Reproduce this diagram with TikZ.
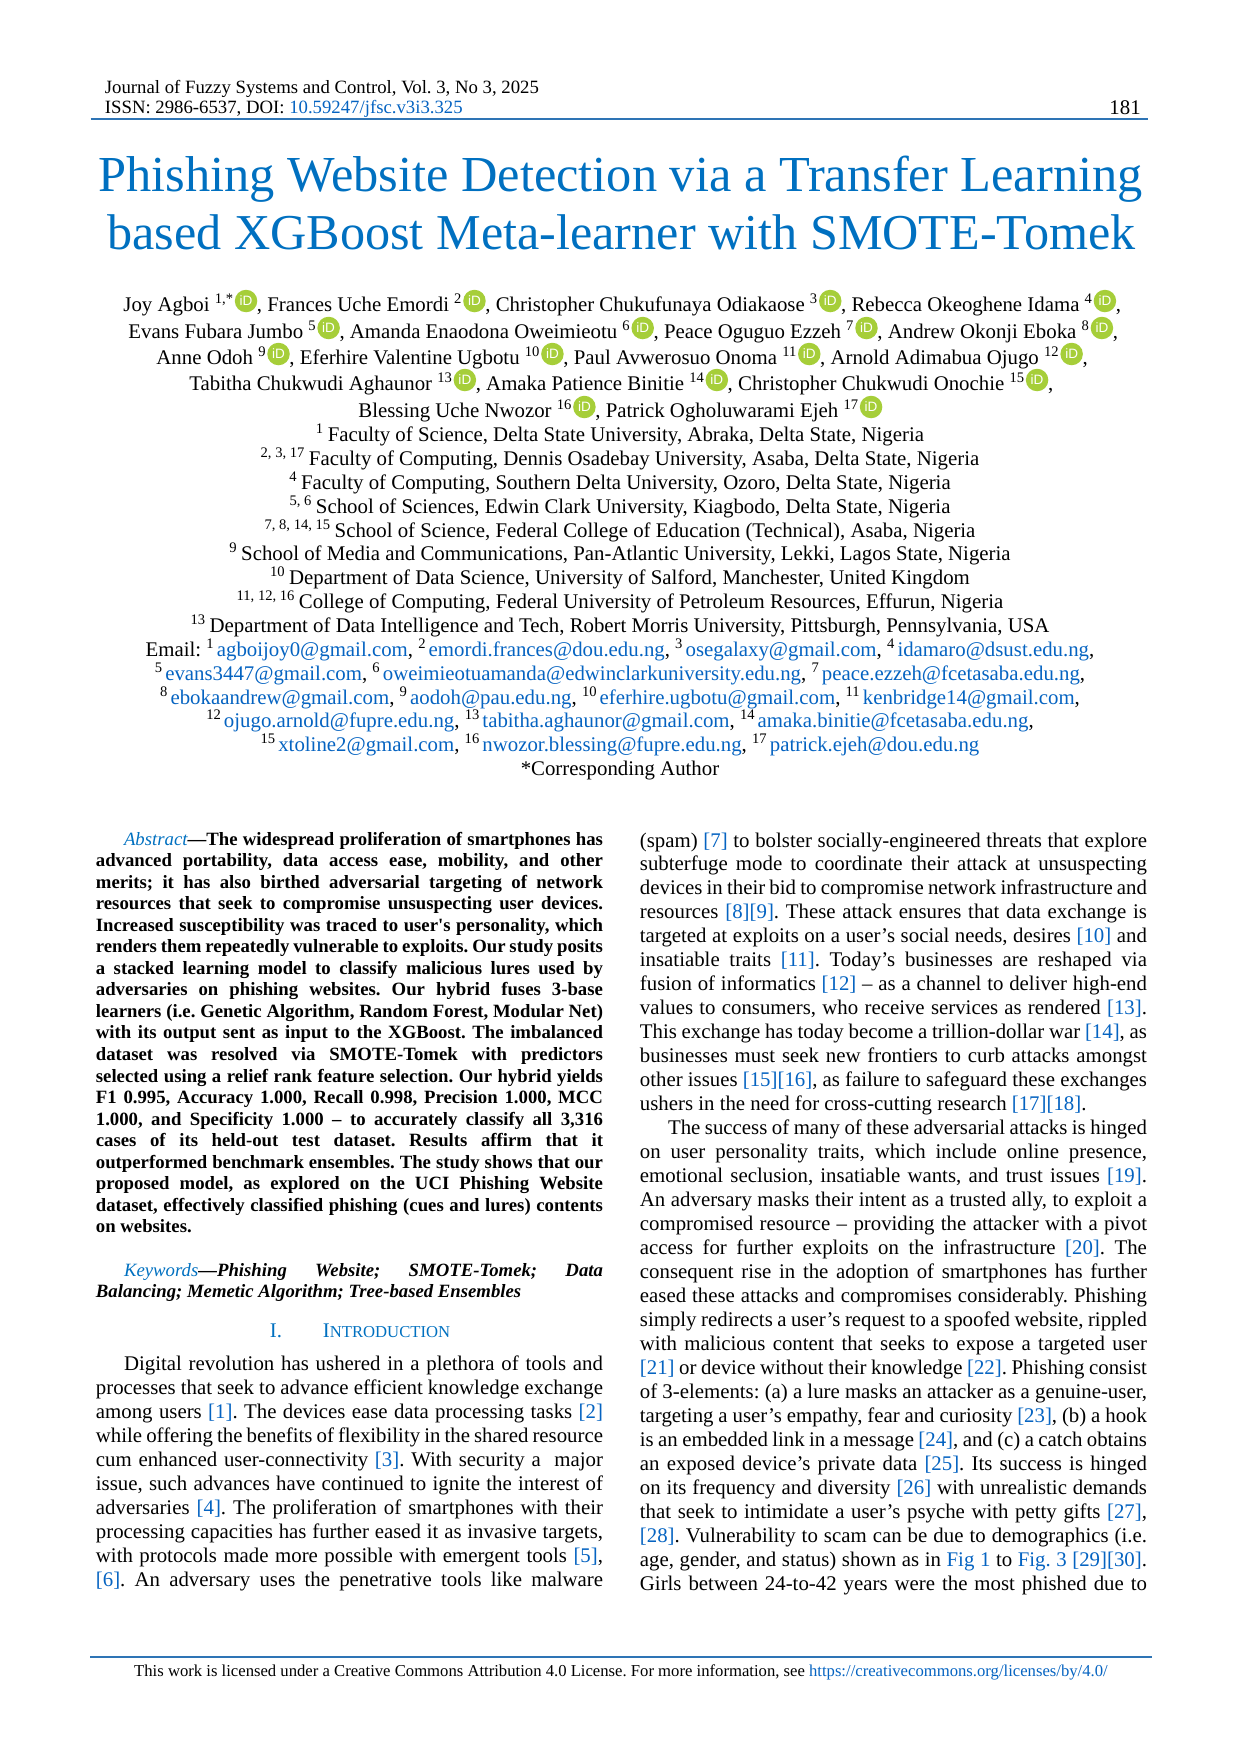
\documentclass[tikz,border=0pt]{standalone}
\usepackage{fontspec}
\setmainfont{Liberation Serif}
\setsansfont{Liberation Sans}
\usetikzlibrary{calc}
\frenchspacing

\definecolor{titleblue}{HTML}{0070C0}
\definecolor{linkblue}{HTML}{0563C1}
\definecolor{ruleblue}{HTML}{2E74B5}
\definecolor{orcgreen}{HTML}{A6CE39}

\tikzset{
    txtline/.style={anchor=base,inner sep=0pt},
    rowtxt/.style={anchor=base west,inner sep=0pt,font=\fontsize{10}{12}\selectfont},
    colline/.style={anchor=base west,inner sep=0pt},
    orc/.style={circle,fill=orcgreen,text=white,inner sep=0pt,minimum size=10.8pt,font=\sffamily\fontsize{6.5}{6.5}\selectfont},
    pagerule/.style={ruleblue,line width=1pt},
}

\newcommand{\lnk}[1]{\textcolor{linkblue}{#1}}
\newcommand{\sups}[1]{\textsuperscript{#1}}
\newcommand{\mailn}[1]{\textsuperscript{#1}\hskip 1pt}
\newcommand{\colwd}{243.4pt}
% author row: icon, then the next piece of text
\newcommand{\orcnext}[3]{%
    \node[orc] (#2o) at ($(#1.base east)+(11.5,-10)$) {iD};
    \node[rowtxt] (#2) at ($(#1.base east)+(22,0)$) {#3};}
% one line of a column
\newcommand{\absl}[2]{\node[colline,font=\bfseries\fontsize{9}{10}\selectfont] (a#1) at (95.5,845+21.55*#1) {\hbox to \colwd{#2}};}
\newcommand{\intl}[2]{\node[colline,font=\fontsize{10}{12}\selectfont] (i#1) at (95.5,1370+24*#1) {\hbox to \colwd{#2}};}
\newcommand{\rgtl}[2]{\node[colline,font=\fontsize{10}{12}\selectfont] (r#1) at (639.5,847+23.97*#1) {\hbox to \colwd{#2}};}
\newcommand{\midl}[3]{\node[txtline,font=\fontsize{10}{12}\selectfont] (#1) at (620,#2) {#3};}

\begin{document}
\begin{tikzpicture}[x=0.48pt,y=-0.48pt]
    \useasboundingbox (0,0) rectangle (1240,1754);

    % header
    \node[colline,font=\fontsize{9}{11}\selectfont] (jour) at (104.5,93) {Journal of Fuzzy Systems and Control, Vol. 3, No 3, 2025};
    \node[colline,font=\fontsize{9}{11}\selectfont] (issn) at (104.5,113) {ISSN: 2986-6537, DOI: \lnk{10.59247/jfsc.v3i3.325}};
    \node[colline,font=\fontsize{10}{12}\selectfont] (pagenum) at (1109,114) {181};
    \draw[pagerule] (90.5,119) -- (1148,119);

    % title
    \node[txtline,text=titleblue,font=\fontsize{24.2}{28}\selectfont] (title1) at (620.5,191) {Phishing Website Detection via a Transfer Learning};
    \node[txtline,text=titleblue,font=\fontsize{24.1}{28}\selectfont] (title2) at (621.5,249) {based XGBoost Meta-learner with SMOTE-Tomek};

    % authors
    \node[rowtxt] (au1) at (123,311) {Joy Agboi \sups{1,*}};
    \orcnext{au1}{au2}{, Frances Uche Emordi \sups{2}}
    \orcnext{au2}{au3}{, Christopher Chukufunaya Odiakaose \sups{3}}
    \orcnext{au3}{au4}{, Rebecca Okeoghene Idama \sups{4}}
    \orcnext{au4}{au4e}{,}

    \node[rowtxt] (au5) at (128,338) {Evans Fubara Jumbo \sups{5}};
    \orcnext{au5}{au6}{, Amanda Enaodona Oweimieotu \sups{6}}
    \orcnext{au6}{au7}{, Peace Oguguo Ezzeh \sups{7}}
    \orcnext{au7}{au8}{, Andrew Okonji Eboka \sups{8}}
    \orcnext{au8}{au8e}{,}

    \node[rowtxt] (au9) at (156,364) {Anne Odoh \sups{9}};
    \orcnext{au9}{au10}{, Eferhire Valentine Ugbotu \sups{10}}
    \orcnext{au10}{au11}{, Paul Avwerosuo Onoma \sups{11}}
    \orcnext{au11}{au12}{, Arnold Adimabua Ojugo \sups{12}}
    \orcnext{au12}{au12e}{,}

    \node[rowtxt] (au13) at (189,390) {Tabitha Chukwudi Aghaunor \sups{13}};
    \orcnext{au13}{au14}{, Amaka Patience Binitie \sups{14}}
    \orcnext{au14}{au15}{, Christopher Chukwudi Onochie \sups{15}}
    \orcnext{au15}{au15e}{,}

    \node[rowtxt] (au16) at (358,417) {Blessing Uche Nwozor \sups{16}};
    \orcnext{au16}{au17}{, Patrick Ogholuwarami Ejeh \sups{17}}
    \node[orc] (au17o) at ($(au17.base east)+(11.5,-10)$) {iD};

    % affiliations
    \midl{af1}{441}{\sups{1}\,Faculty of Science, Delta State University, Abraka, Delta State, Nigeria}
    \midl{af2}{465}{\sups{2, 3, 17}\,Faculty of Computing, Dennis Osadebay University, Asaba, Delta State, Nigeria}
    \midl{af3}{489}{\sups{4}\,Faculty of Computing, Southern Delta University, Ozoro, Delta State, Nigeria}
    \midl{af4}{513}{\sups{5, 6}\,School of Sciences, Edwin Clark University, Kiagbodo, Delta State, Nigeria}
    \midl{af5}{537}{\sups{7, 8, 14, 15}\,School of Science, Federal College of Education (Technical), Asaba, Nigeria}
    \midl{af6}{560.5}{\sups{9}\,School of Media and Communications, Pan-Atlantic University, Lekki, Lagos State, Nigeria}
    \midl{af7}{584.5}{\sups{10}\,Department of Data Science, University of Salford, Manchester, United Kingdom}
    \midl{af8}{608.5}{\sups{11, 12, 16}\,College of Computing, Federal University of Petroleum Resources, Effurun, Nigeria}
    \midl{af9}{632}{\sups{13}\,Department of Data Intelligence and Tech, Robert Morris University, Pittsburgh, Pennsylvania, USA}

    % emails
    \midl{em1}{656.5}{Email: \mailn{1}\lnk{agboijoy0@gmail.com}, \mailn{2}\lnk{emordi.frances@dou.edu.ng}, \mailn{3}\lnk{osegalaxy@gmail.com}, \mailn{4}\lnk{idamaro@dsust.edu.ng},}
    \midl{em2}{680}{\mailn{5}\lnk{evans3447@gmail.com}, \mailn{6}\lnk{oweimieotuamanda@edwinclarkuniversity.edu.ng}, \mailn{7}\lnk{peace.ezzeh@fcetasaba.edu.ng},}
    \midl{em3}{704}{\mailn{8}\lnk{ebokaandrew@gmail.com}, \mailn{9}\lnk{aodoh@pau.edu.ng}, \mailn{10}\lnk{eferhire.ugbotu@gmail.com}, \mailn{11}\lnk{kenbridge14@gmail.com},}
    \midl{em4}{727.5}{\mailn{12}\lnk{ojugo.arnold@fupre.edu.ng}, \mailn{13}\lnk{tabitha.aghaunor@gmail.com}, \mailn{14}\lnk{amaka.binitie@fcetasaba.edu.ng},}
    \midl{em5}{751.5}{\mailn{15}\lnk{xtoline2@gmail.com}, \mailn{16}\lnk{nwozor.blessing@fupre.edu.ng}, \mailn{17}\lnk{patrick.ejeh@dou.edu.ng}}
    \midl{corr}{775.5}{*Corresponding Author}

    % abstract
    \absl{0}{\hskip 13.5pt\textcolor{titleblue}{\mdseries\itshape Abstract}---The widespread proliferation of smartphones has}
    \absl{1}{advanced portability, data access ease, mobility, and other}
    \absl{2}{merits; it has also birthed adversarial targeting of network}
    \absl{3}{resources that seek to compromise unsuspecting user devices.}
    \absl{4}{Increased susceptibility was traced to user\textquotesingle s personality, which}
    \absl{5}{renders them repeatedly vulnerable to exploits. Our study posits}
    \absl{6}{a stacked learning model to classify malicious lures used by}
    \absl{7}{adversaries on phishing websites. Our hybrid fuses 3-base}
    \absl{8}{learners (i.e. Genetic Algorithm, Random Forest, Modular Net)}
    \absl{9}{with its output sent as input to the XGBoost. The imbalanced}
    \absl{10}{dataset was resolved via SMOTE-Tomek with predictors}
    \absl{11}{selected using a relief rank feature selection. Our hybrid yields}
    \absl{12}{F1 0.995, Accuracy 1.000, Recall 0.998, Precision 1.000, MCC}
    \absl{13}{1.000, and Specificity 1.000 -- to accurately classify all 3,316}
    \absl{14}{cases of its held-out test dataset. Results affirm that it}
    \absl{15}{outperformed benchmark ensembles. The study shows that our}
    \absl{16}{proposed model, as explored on the UCI Phishing Website}
    \absl{17}{dataset, effectively classified phishing (cues and lures) contents}
    \absl{18}{on websites.\hfill}

    % keywords
    \node[colline,font=\bfseries\itshape\fontsize{9}{10}\selectfont] (key1) at (95.5,1276) {\hbox to \colwd{\hskip 13.5pt\textcolor{titleblue}{\mdseries Keywords}---Phishing Website; SMOTE-Tomek; Data}};
    \node[colline,font=\bfseries\itshape\fontsize{9}{10}\selectfont] (key2) at (95.5,1297) {Balancing; Memetic Algorithm; Tree-based Ensembles};

    % section heading
    \node[colline,text=titleblue,font=\fontsize{10}{12}\selectfont] (sec) at (269.5,1337) {I.\hskip 19.6pt I{\fontsize{8}{10}\selectfont NTRODUCTION}};

    % left column
    \intl{0}{\hskip 13.5pt Digital revolution has ushered in a plethora of tools and}
    \intl{1}{processes that seek to advance efficient knowledge exchange}
    \intl{2}{among users \lnk{[1]}. The devices ease data processing tasks \lnk{[2]}}
    \intl{3}{while offering the benefits of flexibility in the shared resource}
    \intl{4}{cum enhanced user-connectivity \lnk{[3]}. With security a \ major}
    \intl{5}{issue, such advances have continued to ignite the interest of}
    \intl{6}{adversaries \lnk{[4]}. The proliferation of smartphones with their}
    \intl{7}{processing capacities has further eased it as invasive targets,}
    \intl{8}{with protocols made more possible with emergent tools \lnk{[5]},}
    \intl{9}{\lnk{[6]}. An adversary uses the penetrative tools like malware}

    % right column
    \rgtl{0}{(spam) \lnk{[7]} to bolster socially-engineered threats that explore}
    \rgtl{1}{subterfuge mode to coordinate their attack at unsuspecting}
    \rgtl{2}{devices in their bid to compromise network infrastructure and}
    \rgtl{3}{resources \lnk{[8][9]}. These attack ensures that data exchange is}
    \rgtl{4}{targeted at exploits on a user’s social needs, desires \lnk{[10]} and}
    \rgtl{5}{insatiable traits \lnk{[11]}. Today’s businesses are reshaped via}
    \rgtl{6}{fusion of informatics \lnk{[12]} -- as a channel to deliver high-end}
    \rgtl{7}{values to consumers, who receive services as rendered \lnk{[13]}.}
    \rgtl{8}{This exchange has today become a trillion-dollar war \lnk{[14]}, as}
    \rgtl{9}{businesses must seek new frontiers to curb attacks amongst}
    \rgtl{10}{other issues \lnk{[15][16]}, as failure to safeguard these exchanges}
    \rgtl{11}{ushers in the need for cross-cutting research \lnk{[17][18]}.\hfill}
    \rgtl{12}{\hskip 13.5pt The success of many of these adversarial attacks is hinged}
    \rgtl{13}{on user personality traits, which include online presence,}
    \rgtl{14}{emotional seclusion, insatiable wants, and trust issues \lnk{[19]}.}
    \rgtl{15}{An adversary masks their intent as a trusted ally, to exploit a}
    \rgtl{16}{compromised resource -- providing the attacker with a pivot}
    \rgtl{17}{access for further exploits on the infrastructure \lnk{[20]}. The}
    \rgtl{18}{consequent rise in the adoption of smartphones has further}
    \rgtl{19}{eased these attacks and compromises considerably. Phishing}
    \rgtl{20}{simply redirects a user’s request to a spoofed website, rippled}
    \rgtl{21}{with malicious content that seeks to expose a targeted user}
    \rgtl{22}{\lnk{[21]} or device without their knowledge \lnk{[22]}. Phishing consist}
    \rgtl{23}{of 3-elements: (a) a lure masks an attacker as a genuine-user,}
    \rgtl{24}{targeting a user’s empathy, fear and curiosity \lnk{[23]}, (b) a hook}
    \rgtl{25}{is an embedded link in a message \lnk{[24]}, and (c) a catch obtains}
    \rgtl{26}{an exposed device’s private data \lnk{[25]}. Its success is hinged}
    \rgtl{27}{on its frequency and diversity \lnk{[26]} with unrealistic demands}
    \rgtl{28}{that seek to intimidate a user’s psyche with petty gifts \lnk{[27]},}
    \rgtl{29}{\lnk{[28]}. Vulnerability to scam can be due to demographics (i.e.}
    \rgtl{30}{age, gender, and status) shown as in \lnk{Fig 1} to \lnk{Fig. 3} \lnk{[29][30]}.}
    \rgtl{31}{Girls between 24-to-42 years were the most phished due to}

    % footer
    \draw[pagerule] (90,1657) -- (1152,1657);
    \node[txtline,font=\fontsize{8}{10}\selectfont] (foot) at (621,1676) {This work is licensed under a Creative Commons Attribution 4.0 License. For more information, see \lnk{https://creativecommons.org/licenses/by/4.0/}};
\end{tikzpicture}
\end{document}
